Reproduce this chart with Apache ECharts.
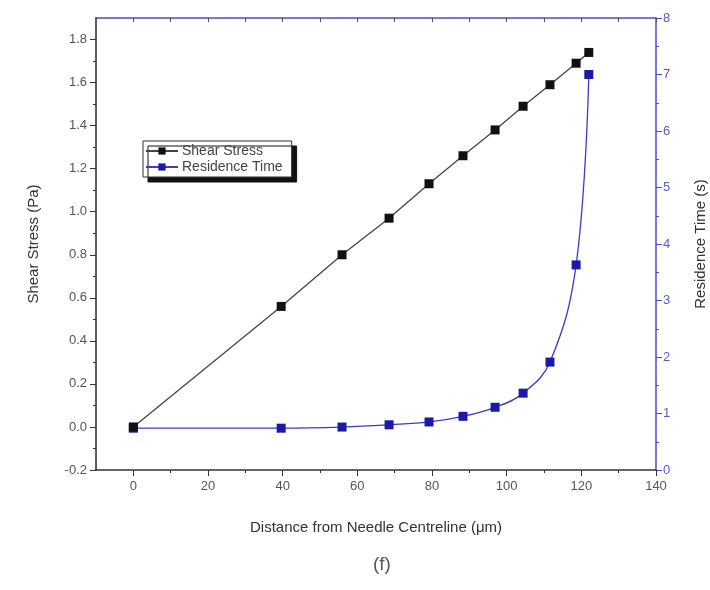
<!DOCTYPE html>
<html>
<head>
<meta charset="utf-8">
<script src="https://cdn.jsdelivr.net/npm/echarts@6/dist/echarts.min.js"></script>
<style>
    html,body{margin:0;padding:0;background:#fff;}
    #chart{width:710px;height:590px;}
</style>
</head>
<body>
<div id="chart"></div>
<script>
    // values
    var distance=[0,39.6,55.9,68.5,79.2,88.3,96.9,104.4,111.6,118.6,122];
    var shearStress=[0.00,0.56,0.80,0.97,1.13,1.26,1.38,1.49,1.59,1.69,1.74];
    var residenceTime=[0.74,0.74,0.76,0.80,0.85,0.95,1.11,1.36,1.91,3.63,7.0];

    var xMajor=[0,20,40,60,80,100,120,140];
    var xMinor=[10,30,50,70,90,110,130];
    var xTop=[0,10,20,30,40,50,60,70,80,90,100,110,120,130,140];
    var leftLabels=[-0.2,0,0.2,0.4,0.6,0.8,1.0,1.2,1.4,1.6,1.8];

    var textGrey='#333';
    var blueAxis='#4b4bc8';

    function pairs(xs,ys){
        var out=[];
        for(var i=0;i<xs.length;i++){ out.push([xs[i],ys[i]]); }
        return out;
    }

    var chart=echarts.init(document.getElementById('chart'));
    var option={
        backgroundColor:'#fff',
        animation:false,
        title:{
            text:'(f)',
            left:368,
            top:550,
            textStyle:{fontFamily:'Liberation Sans',fontSize:19,fontWeight:'normal',color:'#555'}
        },
        legend:{
            orient:'vertical',
            left:143,
            top:141,
            padding:[3,9,3,2],
            itemGap:2,
            itemWidth:32,
            itemHeight:9,
            backgroundColor:'#fff',
            borderColor:'#333',
            borderWidth:1,
            shadowColor:'#111',
            shadowBlur:0,
            shadowOffsetX:5,
            shadowOffsetY:5,
            textStyle:{fontFamily:'Liberation Sans',fontSize:14,color:'#444',padding:[0,0,0,-1]},
            data:['Shear Stress','Residence Time']
        },
        grid:{left:96,right:54,top:18,bottom:120,containLabel:false,outerBoundsMode:'none'},
        xAxis:[
            {
                type:'value',
                position:'bottom',
                min:-10,max:140,interval:10,
                name:'Distance from Needle Centreline (μm)',
                nameLocation:'middle',
                nameGap:50,
                nameTextStyle:{fontFamily:'Liberation Sans',fontSize:15,color:textGrey},
                axisLine:{show:true,onZero:false,lineStyle:{color:'#333',width:1.5}},
                axisTick:{show:true,length:6,customValues:xMajor,lineStyle:{color:'#333'}},
                axisLabel:{customValues:xMajor,fontFamily:'Liberation Sans',fontSize:13,color:'#555',margin:10},
                splitLine:{show:false}
            },
            {
                type:'value',
                position:'bottom',
                min:-10,max:140,
                axisLine:{show:false,onZero:false},
                axisTick:{show:true,length:3,customValues:xMinor,lineStyle:{color:'#333'}},
                axisLabel:{show:false},
                splitLine:{show:false}
            },
            {
                type:'value',
                position:'top',
                min:-10,max:140,
                axisLine:{show:true,onZero:false,lineStyle:{color:blueAxis,width:1.5}},
                axisTick:{show:true,inside:true,length:4,customValues:xTop,lineStyle:{color:'#555'}},
                axisLabel:{show:false},
                splitLine:{show:false}
            }
        ],
        yAxis:[
            {
                type:'value',
                position:'left',
                min:-0.2,max:1.9,interval:0.2,
                name:'Shear Stress (Pa)',
                nameLocation:'middle',
                nameGap:55,
                nameRotate:90,
                nameTextStyle:{fontFamily:'Liberation Sans',fontSize:15,color:textGrey},
                axisLine:{show:true,onZero:false,lineStyle:{color:'#2a2a2a',width:1.5}},
                axisTick:{show:true,length:6,customValues:leftLabels,lineStyle:{color:'#333'}},
                minorTick:{show:true,splitNumber:2,length:3,lineStyle:{color:'#333'}},
                axisLabel:{
                    customValues:leftLabels,
                    fontFamily:'Liberation Sans',fontSize:13,color:'#555',margin:9,
                    formatter:function(v){return v.toFixed(1);}
                },
                splitLine:{show:false},
                z:5
            },
            {
                type:'value',
                position:'right',
                min:0,max:8,interval:1,
                name:'Residence Time (s)',
                nameLocation:'middle',
                nameGap:37,
                nameRotate:90,
                nameTextStyle:{fontFamily:'Liberation Sans',fontSize:15,color:textGrey},
                axisLine:{show:true,onZero:false,lineStyle:{color:blueAxis,width:1.5}},
                axisTick:{show:true,length:6,lineStyle:{color:blueAxis}},
                minorTick:{show:true,splitNumber:2,length:3,lineStyle:{color:blueAxis}},
                axisLabel:{fontFamily:'Liberation Sans',fontSize:13,color:'#5a5ad0',margin:7},
                splitLine:{show:false}
            }
        ],
        series:[
            {
                name:'Shear Stress',
                type:'line',
                xAxisIndex:0,
                yAxisIndex:0,
                symbol:'rect',
                symbolSize:9,
                itemStyle:{color:'#111'},
                lineStyle:{color:'#444',width:1.3},
                data:pairs(distance,shearStress),
                z:3
            },
            {
                name:'Residence Time',
                type:'line',
                xAxisIndex:0,
                yAxisIndex:1,
                symbol:'rect',
                symbolSize:9,
                smooth:0.4,
                itemStyle:{color:'#1a1aa6'},
                lineStyle:{color:'#3a3ad0',width:1.3},
                data:pairs(distance,residenceTime),
                z:2
            }
        ]
    };
    chart.setOption(option);
    window.addEventListener('resize',chart.resize);
</script>
</body>
</html>
